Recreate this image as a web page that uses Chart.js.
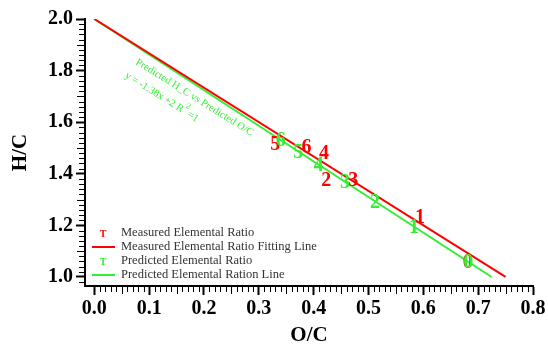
<!DOCTYPE html>
<html>
<head>
<meta charset="utf-8">
<script src="https://cdn.jsdelivr.net/npm/chart.js@4.4.0/dist/chart.umd.min.js"></script>
<style>
    html, body { margin: 0; padding: 0; background: #fff; }
</style>
</head>
<body>
<canvas id="chart" width="548" height="345"></canvas>
<script>
// sample numbers written at each point
const sampleIds = ['0', '1', '2', '3', '4', '5', '6'];

// measured elemental ratios
const measuredOC = [0.681, 0.594, 0.423, 0.472, 0.419, 0.330, 0.387];
const measuredHC = [1.060, 1.234, 1.376, 1.376, 1.482, 1.518, 1.503];

// predicted elemental ratios
const predictedOC = [0.682, 0.583, 0.512, 0.457, 0.409, 0.372, 0.340];
const predictedHC = [1.059, 1.195, 1.293, 1.369, 1.436, 1.487, 1.531];

// fitting lines (end points)
const measuredFitOC = [0, 0.75];
const measuredFitHC = [2.0, 1.0];
const predictedFitOC = [0, 0.7246];
const predictedFitHC = [2.0, 1.0];

// tick labels
const xTicks = [0.0, 0.1, 0.2, 0.3, 0.4, 0.5, 0.6, 0.7, 0.8];
const yTicks = [1.0, 1.2, 1.4, 1.6, 1.8, 2.0];

const RED = '#ff0000';
const GREEN = '#33ee33';
const SERIF = "'Liberation Serif', 'Times New Roman', serif";

function toPoints(xs, ys) {
    return xs.map((x, i) => ({ x: x, y: ys[i] }));
}

// small ticks between the labelled ones
function drawMinorTicks(chart) {
    const ctx = chart.ctx;
    const xs = chart.scales.x;
    const ys = chart.scales.y;
    const area = chart.chartArea;
    ctx.save();
    ctx.fillStyle = '#000000';
    for (let i = 1; i < 80; i++) {
        if (i % 10 === 0) continue;
        const px = Math.round(xs.getPixelForValue(i / 100));
        const len = i % 5 === 0 ? 8 : 6;
        ctx.fillRect(px, area.bottom, 1, len);
    }
    for (let i = 49; i < 100; i++) {
        if (i % 10 === 0) continue;
        const py = Math.round(ys.getPixelForValue(i / 50));
        const len = i % 5 === 0 ? 8 : 6;
        ctx.fillRect(area.left - len, py, len, 1);
    }
    ctx.restore();
}

// numbers at the points, equation text and legend
const pointText = {
    id: 'pointText',
    afterDatasetsDraw(chart) {
        const ctx = chart.ctx;
        const xs = chart.scales.x;
        const ys = chart.scales.y;
        const area = chart.chartArea;

        drawMinorTicks(chart);

        ctx.save();
        ctx.font = 'bold 20px ' + SERIF;
        ctx.textAlign = 'center';
        ctx.textBaseline = 'middle';
        [[0, RED], [2, GREEN]].forEach(([idx, color]) => {
            const meta = chart.getDatasetMeta(idx);
            ctx.fillStyle = color;
            meta.data.forEach((pt, i) => {
                ctx.fillText(sampleIds[i], pt.x, pt.y + 1);
            });
        });

        // equation along the predicted line
        ctx.save();
        ctx.translate(xs.getPixelForValue(0.077), ys.getPixelForValue(1.836));
        ctx.rotate(32 * Math.PI / 180);
        ctx.fillStyle = GREEN;
        ctx.textAlign = 'left';
        ctx.textBaseline = 'middle';
        ctx.font = '10.5px ' + SERIF;
        ctx.fillText('Predicted H_C vs Predicted O/C', 0, 0);
        const t = 'y = -1.38x +2 R';
        ctx.fillText(t, -2, 17);
        const w = ctx.measureText(t).width - 2;
        ctx.font = '8px ' + SERIF;
        ctx.fillText('2', w + 1, 11);
        ctx.font = '10.5px ' + SERIF;
        ctx.fillText(' =1', w + 4, 17);
        ctx.restore();

        // legend
        const rows = [
            { kind: 'T', color: RED, text: 'Measured Elemental Ratio' },
            { kind: 'line', color: RED, text: 'Measured Elemental Ratio Fitting Line' },
            { kind: 'T', color: GREEN, text: 'Predicted Elemental Ratio' },
            { kind: 'line', color: GREEN, text: 'Predicted Elemental Ration Line' }
        ];
        const symX = area.left + 18;
        rows.forEach((row, i) => {
            const y = area.bottom - 53 + i * 14;
            if (row.kind === 'T') {
                ctx.font = 'bold 10px ' + SERIF;
                ctx.fillStyle = row.color;
                ctx.textAlign = 'center';
                ctx.fillText('T', symX, y + 1);
            } else {
                ctx.strokeStyle = row.color;
                ctx.lineWidth = 2;
                ctx.beginPath();
                ctx.moveTo(symX - 11, y);
                ctx.lineTo(symX + 12, y);
                ctx.stroke();
            }
            ctx.font = '12.5px ' + SERIF;
            ctx.fillStyle = '#333';
            ctx.textAlign = 'left';
            ctx.fillText(row.text, area.left + 36, y);
        });

        ctx.restore();
    }
};

new Chart(document.getElementById('chart'), {
    type: 'scatter',
    data: {
        datasets: [
            {
                label: 'Measured Elemental Ratio',
                data: toPoints(measuredOC, measuredHC),
                pointRadius: 0,
                pointHoverRadius: 0
            },
            {
                label: 'Measured Elemental Ratio Fitting Line',
                data: toPoints(measuredFitOC, measuredFitHC),
                showLine: true,
                borderColor: RED,
                borderWidth: 2,
                pointRadius: 0
            },
            {
                label: 'Predicted Elemental Ratio',
                data: toPoints(predictedOC, predictedHC),
                pointRadius: 0,
                pointHoverRadius: 0
            },
            {
                label: 'Predicted Elemental Ration Line',
                data: toPoints(predictedFitOC, predictedFitHC),
                showLine: true,
                borderColor: GREEN,
                borderWidth: 2,
                pointRadius: 0
            }
        ]
    },
    options: {
        responsive: false,
        animation: false,
        events: [],
        layout: { padding: { top: 19, right: 15, left: 0, bottom: 0 } },
        plugins: {
            legend: { display: false },
            tooltip: { enabled: false }
        },
        scales: {
            x: {
                type: 'linear',
                min: -0.017,
                max: 0.8,
                afterBuildTicks: axis => { axis.ticks = xTicks.map(v => ({ value: v })); },
                afterFit: axis => { axis.height = 59; },
                border: { display: true, color: '#000', width: 2 },
                grid: {
                    display: true,
                    drawOnChartArea: false,
                    drawTicks: true,
                    tickLength: 9,
                    tickWidth: 2,
                    tickColor: '#000'
                },
                ticks: {
                    color: '#000',
                    padding: 2,
                    maxRotation: 0,
                    font: { family: SERIF, size: 20, weight: 'bold' },
                    callback: v => v.toFixed(1)
                },
                title: {
                    display: true,
                    text: 'O/C',
                    color: '#000',
                    padding: { top: 0, bottom: -3 },
                    font: { family: SERIF, size: 21, weight: 'bold' }
                }
            },
            y: {
                type: 'linear',
                min: 0.965,
                max: 2.0,
                afterBuildTicks: axis => { axis.ticks = yTicks.map(v => ({ value: v })); },
                afterFit: axis => { axis.width = 85; },
                border: { display: true, color: '#000', width: 2 },
                grid: {
                    display: true,
                    drawOnChartArea: false,
                    drawTicks: true,
                    tickLength: 9,
                    tickWidth: 2,
                    tickColor: '#000'
                },
                ticks: {
                    color: '#000',
                    padding: 3,
                    font: { family: SERIF, size: 20, weight: 'bold' },
                    callback: v => v.toFixed(1)
                },
                title: {
                    display: true,
                    text: 'H/C',
                    color: '#000',
                    padding: { top: 8, bottom: 0 },
                    font: { family: SERIF, size: 21, weight: 'bold' }
                }
            }
        }
    },
    plugins: [pointText]
});
</script>
</body>
</html>
